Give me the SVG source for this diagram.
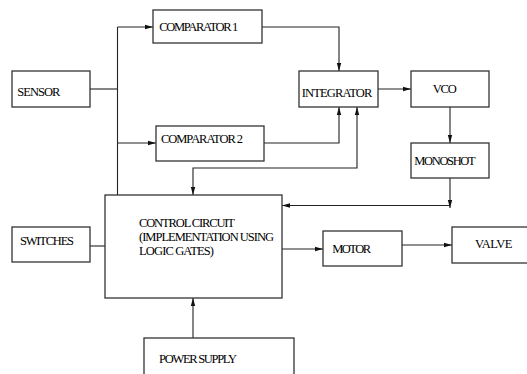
<svg xmlns="http://www.w3.org/2000/svg" width="527" height="374" viewBox="0 0 527 374">
<defs>
<style>
.box{fill:#fff;stroke:#333;stroke-width:1.3}
.ln{fill:none;stroke:#222;stroke-width:1.1}
text{font-family:'Liberation Serif','DejaVu Serif',serif;font-size:12.5px;fill:#000}
</style>
<marker id="ah" viewBox="0 0 8 6" refX="8" refY="3" markerWidth="8" markerHeight="6" markerUnits="userSpaceOnUse" orient="auto-start-reverse">
<path d="M0,0.8 L8,3 L0,5.2 Z" fill="#111"/>
</marker>
</defs>
<rect width="527" height="374" fill="#fff"/>
<g id="connectors">
<path class="ln" d="M90,89 H117.5"/>
<path class="ln" d="M117.5,195 V27"/>
<path class="ln" d="M117.5,27 H153" marker-end="url(#ah)"/>
<path class="ln" d="M117.5,143 H156" marker-end="url(#ah)"/>
<path class="ln" d="M262,27 H339 V71" marker-end="url(#ah)"/>
<path class="ln" d="M264,143 H339 V107" marker-end="url(#ah)"/>
<path class="ln" d="M193,195 V168 H357 V107" marker-start="url(#ah)" marker-end="url(#ah)"/>
<path class="ln" d="M378,89 H411" marker-end="url(#ah)"/>
<path class="ln" d="M450,107 V143" marker-end="url(#ah)"/>
<path class="ln" d="M450,178 V208" marker-end="url(#ah)"/>
<path class="ln" d="M450,205.5 H282" marker-end="url(#ah)"/>
<path class="ln" d="M90,246 H105"/>
<path class="ln" d="M282,249 H323" marker-end="url(#ah)"/>
<path class="ln" d="M402,245 H452" marker-end="url(#ah)"/>
<path class="ln" d="M193,338 V298" marker-end="url(#ah)"/>
</g>
<g id="sensor"><rect class="box" x="12" y="71" width="78" height="36"/><text x="17.3" y="95.7" textLength="43" lengthAdjust="spacing">SENSOR</text></g>
<g id="comparator1"><rect class="box" x="153" y="10" width="109" height="33"/><text x="159.3" y="30.5" textLength="79" lengthAdjust="spacing">COMPARATOR 1</text></g>
<g id="comparator2"><rect class="box" x="156" y="126" width="108" height="35"/><text x="161" y="143.3" textLength="82" lengthAdjust="spacing">COMPARATOR 2</text></g>
<g id="integrator"><rect class="box" x="299" y="71" width="79" height="36"/><text x="301.7" y="96.5" textLength="70.6" lengthAdjust="spacing">INTEGRATOR</text></g>
<g id="vco"><rect class="box" x="411" y="71" width="78" height="36"/><text x="432.7" y="92.7" textLength="24" lengthAdjust="spacing">VCO</text></g>
<g id="monoshot"><rect class="box" x="411" y="143" width="78" height="35"/><text x="414.3" y="165" textLength="61.3" lengthAdjust="spacing">MONOSHOT</text></g>
<g id="control"><rect class="box" x="105" y="195" width="177" height="103"/>
<text x="139" y="226.7" textLength="96" lengthAdjust="spacing">CONTROL CIRCUIT</text>
<text x="139" y="240.7" textLength="135" lengthAdjust="spacing">(IMPLEMENTATION USING</text>
<text x="139" y="254.5" textLength="75" lengthAdjust="spacing">LOGIC GATES)</text></g>
<g id="switches"><rect class="box" x="12" y="227" width="78" height="35"/><text x="20" y="245.3" textLength="54" lengthAdjust="spacing">SWITCHES</text></g>
<g id="motor"><rect class="box" x="323" y="231" width="79" height="35"/><text x="332.3" y="253.3" textLength="38.7" lengthAdjust="spacing">MOTOR</text></g>
<g id="valve"><rect class="box" x="452" y="227" width="85" height="36"/><text x="475" y="248.3" textLength="37.3" lengthAdjust="spacing">VALVE</text></g>
<g id="power"><rect class="box" x="144" y="338" width="150" height="46"/><text x="159" y="363" textLength="78" lengthAdjust="spacing">POWER SUPPLY</text></g>
</svg>
